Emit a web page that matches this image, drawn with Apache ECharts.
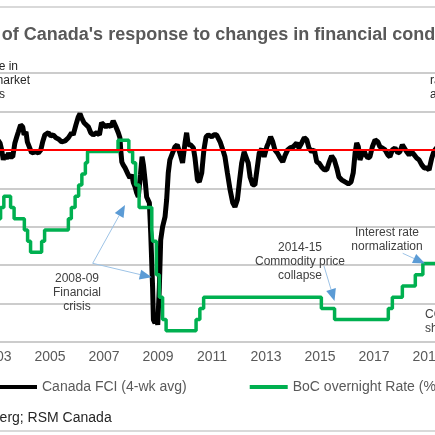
<!DOCTYPE html>
<html>
<head>
<meta charset="utf-8">
<script src="https://cdn.jsdelivr.net/npm/echarts@6/dist/echarts.min.js"></script>
<style>
  html, body { margin: 0; padding: 0; overflow: hidden; background: #fff; width: 435px; height: 435px; }
  /* the chart is wider than the window: only its middle part is shown */
  #chart { position: absolute; left: -100px; top: 0; width: 636px; height: 435px; }
  #frame { position: absolute; left: -98px; top: 6px; width: 630px; height: 422px; z-index: 5;
           border: 2px solid #d9d9d9; pointer-events: none; }
</style>
</head>
<body>
<div id="chart"></div>
<div id="frame"></div>
<script>
// x values are decimal years
const fciYears = [
  2003.08, 2003.15, 2003.21, 2003.27, 2003.33, 2003.40, 2003.46, 2003.52, 2003.62, 2003.70, 2003.77, 2003.83,
  2003.91, 2003.99, 2004.04, 2004.11, 2004.16, 2004.23, 2004.32, 2004.38, 2004.48, 2004.57, 2004.66, 2004.73,
  2004.81, 2004.94, 2005.03, 2005.12, 2005.22, 2005.31, 2005.43, 2005.56, 2005.68, 2005.80, 2005.86, 2005.96,
  2006.05, 2006.11, 2006.17, 2006.26, 2006.33, 2006.42, 2006.51, 2006.60, 2006.73, 2006.83, 2006.91, 2006.97,
  2007.07, 2007.16, 2007.25, 2007.34, 2007.44, 2007.53, 2007.59, 2007.62, 2007.66, 2007.71, 2007.78, 2007.84,
  2007.90, 2007.96, 2008.03, 2008.09, 2008.15, 2008.21, 2008.27, 2008.35, 2008.41, 2008.46, 2008.52, 2008.58,
  2008.68, 2008.73, 2008.80, 2008.83, 2008.89, 2008.95, 2008.99, 2009.05, 2009.10, 2009.17, 2009.26, 2009.32,
  2009.38, 2009.44, 2009.54, 2009.63, 2009.71, 2009.81, 2009.91, 2010.00, 2010.06, 2010.12, 2010.21, 2010.31,
  2010.37, 2010.46, 2010.53, 2010.62, 2010.70, 2010.78, 2010.86, 2010.99, 2011.07, 2011.17, 2011.30, 2011.40,
  2011.48, 2011.57, 2011.67, 2011.77, 2011.85, 2011.94, 2012.01, 2012.10, 2012.19, 2012.26, 2012.34, 2012.41,
  2012.51, 2012.59, 2012.68, 2012.75, 2012.84, 2012.93, 2013.03, 2013.09, 2013.17, 2013.25, 2013.33, 2013.42,
  2013.52, 2013.62, 2013.70, 2013.80, 2013.89, 2014.01, 2014.14, 2014.22, 2014.32, 2014.42, 2014.51, 2014.59,
  2014.69, 2014.79, 2014.88, 2014.96, 2015.06, 2015.16, 2015.25, 2015.33, 2015.43, 2015.53, 2015.62, 2015.70,
  2015.80, 2015.93, 2016.05, 2016.15, 2016.23, 2016.30, 2016.36, 2016.42, 2016.48, 2016.54, 2016.62, 2016.69,
  2016.77, 2016.85, 2016.94, 2017.04, 2017.14, 2017.22, 2017.31, 2017.41, 2017.51, 2017.59, 2017.68, 2017.78,
  2017.88, 2017.96, 2018.05, 2018.12, 2018.21, 2018.30, 2018.40, 2018.49, 2018.58, 2018.67, 2018.77, 2018.86,
  2018.95, 2019.04, 2019.14, 2019.20, 2019.26, 2019.35
];
const fciValues = [
  0.50, 0.35, 0.00, -0.52, -0.26, -0.47, -0.16, -0.36, -0.36, 0.36, 0.68, 0.94,
  1.30, 1.20, 0.78, 0.94, 0.42, 0.36, -0.16, -0.26, -0.10, -0.16, 0.00, 0.42,
  0.78, 0.89, 0.73, 0.78, 0.63, 0.57, 0.42, 0.47, 0.63, 0.89, 0.78, 1.30,
  1.72, 1.88, 1.67, 1.41, 1.46, 1.20, 0.89, 0.78, 0.89, 0.78, 1.41, 1.46,
  1.20, 1.30, 1.20, 1.51, 1.20, 0.89, 0.63, 0.00, -0.63, -0.78, -0.94, -0.89,
  -1.30, -1.46, -1.30, -1.72, -1.93, -2.24, -2.45, -1.30, -0.36, -0.78, -1.56, -2.45,
  -2.76, -4.32, -7.14, -8.85, -9.01, -8.49, -9.11, -7.14, -4.69, -4.01, -3.49, -2.60,
  -1.20, -0.52, -0.16, 0.16, 0.26, -0.16, -0.68, 0.36, 0.89, 0.26, 0.26, 0.10,
  -0.42, -1.56, -1.67, -1.20, 0.00, 0.68, 0.78, 0.68, 0.78, 0.78, 0.42, 0.00,
  -0.36, -1.20, -2.08, -2.76, -2.97, -2.60, -1.72, -0.68, -0.10, -0.16, -0.68, -1.41,
  -1.82, -1.82, -0.89, -0.16, 0.05, -0.36, 0.16, 0.36, 0.68, 0.42, 0.00, -0.16,
  -0.42, -0.63, -0.31, 0.00, 0.10, 0.16, 0.36, 0.10, 0.36, 0.63, 0.52, 0.10,
  -0.10, 0.00, -0.63, -0.68, -0.89, -1.04, -1.04, -0.68, -0.31, -0.52, -0.94, -1.41,
  -1.56, -1.67, -1.77, -1.67, -1.20, -0.16, 0.36, 0.16, -0.52, -0.42, 0.00, -0.26,
  -0.42, -0.36, 0.16, 0.52, 0.42, 0.16, 0.10, 0.00, -0.26, -0.36, 0.00, 0.10,
  -0.16, -0.10, 0.26, 0.26, -0.10, -0.26, -0.10, -0.26, -0.42, -0.52, -0.78, -0.94,
  -0.94, -1.04, -0.42, -0.16, 0.00, 0.15
];
// BoC overnight rate: date of each change and the new level (%)
const rateYears = [
  2003.00, 2003.17, 2003.29, 2003.54, 2003.67, 2004.05, 2004.17, 2004.28, 2004.69, 2004.80,
  2005.68, 2005.79, 2005.93, 2006.06, 2006.18, 2006.31, 2006.39, 2007.52, 2007.92, 2008.06,
  2008.17, 2008.30, 2008.77, 2008.80, 2008.94, 2009.05, 2009.17, 2009.30, 2010.41, 2010.55,
  2010.69, 2015.05, 2015.54, 2017.53, 2017.68, 2018.05, 2018.53, 2018.81, 2019.40
];
const rateValues = [
  2.75, 3.00, 3.25, 3.00, 2.75, 2.50, 2.25, 2.00, 2.25, 2.50,
  2.75, 3.00, 3.25, 3.50, 3.75, 4.00, 4.25, 4.50, 4.25, 4.00,
  3.50, 3.00, 2.50, 2.25, 1.50, 1.00, 0.50, 0.25, 0.50, 0.75,
  1.00, 0.75, 0.50, 0.75, 1.00, 1.25, 1.50, 1.75, 1.75
];
const xMin = 2001, xMax = 2021, xStep = 2;
const fciMin = -10, fciMax = 4, fciStep = 2;
const rateMin = 0, rateMax = 6, rateStep = 1;

const OFF = 100; // window x -> chart x
const FONT = 'Arial, "Liberation Sans", sans-serif';

const fciData = fciYears.map((y, i) => [y, fciValues[i]]);
const rateData = rateYears.map((y, i) => [y, rateValues[i]]);

// one text line; y is the middle of the line
function note(x, y, text, align, color, size) {
  const fs = size || 12;
  return {
    type: 'text', z: 100, x: x + OFF, y: y - fs * 0.6 + 1,
    style: {
      text: text, align: align, verticalAlign: 'top',
      font: fs + 'px ' + FONT, fill: color || '#404040'
    }
  };
}

function lines(x, y, texts, align, color) {
  return texts.map((t, i) => note(x, y + i * 14, t, align, color));
}

function arrow(x1, y1, x2, y2) {
  const a = Math.atan2(y2 - y1, x2 - x1), len = 12, half = 5;
  const bx = x2 - len * Math.cos(a), by = y2 - len * Math.sin(a);
  const nx = -Math.sin(a) * half, ny = Math.cos(a) * half;
  return [
    { type: 'line', z: 100, shape: { x1: x1 + OFF, y1: y1, x2: bx + OFF, y2: by },
      style: { stroke: '#9dc3e6', lineWidth: 1 } },
    { type: 'polygon', z: 100,
      shape: { points: [[x2 + OFF, y2], [bx + nx + OFF, by + ny], [bx - nx + OFF, by - ny]] },
      style: { fill: '#5b9bd5' } }
  ];
}

const chart = echarts.init(document.getElementById('chart'));
const option = {
  animation: false,
  backgroundColor: 'transparent',
  textStyle: { fontFamily: FONT },
  title: {
    text: "Bank of Canada's response to changes in financial conditions",
    left: 'center', top: 21,
    textStyle: { fontSize: 18, fontWeight: 'bold', color: '#595959', fontFamily: FONT }
  },
  grid: { left: 42, right: 54, top: 73, bottom: 93 },
  legend: {
    left: 94, top: 375, itemWidth: 38, itemHeight: 4, itemGap: 63, icon: 'rect',
    textStyle: { fontSize: 14, color: '#595959', fontFamily: FONT },
    data: ['Canada FCI (4-wk avg)', 'BoC overnight Rate (%)']
  },
  xAxis: {
    type: 'value', min: xMin, max: xMax, interval: xStep,
    axisLine: { show: true, onZero: false, lineStyle: { color: '#cccccc', width: 2 } },
    axisTick: { show: false },
    splitLine: { show: false },
    axisLabel: { fontSize: 14, color: '#595959', margin: 8, formatter: v => String(v) }
  },
  yAxis: [
    {
      type: 'value', min: fciMin, max: fciMax, interval: fciStep,
      axisLine: { show: false }, axisTick: { show: false },
      splitLine: { show: true, lineStyle: { color: '#cccccc', width: 2, type: 'solid' } },
      axisLabel: { fontSize: 14, color: '#595959' }
    },
    {
      type: 'value', min: rateMin, max: rateMax, interval: rateStep,
      axisLine: { show: false }, axisTick: { show: false },
      splitLine: { show: false },
      axisLabel: { fontSize: 14, color: '#595959' }
    }
  ],
  series: [
    {
      name: 'Canada FCI (4-wk avg)', type: 'line', data: fciData, symbol: 'none', z: 2,
      lineStyle: { color: '#000', width: 5 }, itemStyle: { color: '#000' },
      markLine: {
        silent: true, symbol: 'none', label: { show: false },
        lineStyle: { color: '#ff0000', width: 2, type: 'solid' },
        data: [{ yAxis: 0 }]
      }
    },
    {
      name: 'BoC overnight Rate (%)', type: 'line', yAxisIndex: 1, step: 'end',
      data: rateData, symbol: 'none', z: 3,
      lineStyle: { color: '#00b050', width: 3.5 }, itemStyle: { color: '#00b050' }
    }
  ],
  graphic: [
    note(18, 67, 'Spike in', 'right', '#262626'),
    note(30, 81, 'stock market', 'right', '#262626'),
    note(5, 95, 'jitters', 'right', '#262626'),
    note(430, 81, 'rates', 'left', '#262626'),
    note(430, 95, 'ahead', 'left', '#262626'),
    ...lines(77, 279, ['2008-09', 'Financial', 'crisis'], 'center'),
    ...lines(300, 248, ['2014-15', 'Commodity price', 'collapse'], 'center'),
    ...lines(387, 233, ['Interest rate', 'normalization'], 'center'),
    ...lines(425, 315, ['COVID-19', 'shock'], 'left'),
    ...arrow(92.7, 263.3, 125, 205),
    ...arrow(92.7, 263.3, 151.7, 277.3),
    ...arrow(324, 266, 334.5, 301),
    ...arrow(402.7, 253.3, 425, 263.5),
    note(-100, 419, 'Source: Bloomberg; RSM Canada', 'left', '#262626', 14)
  ]
};
chart.setOption(option);
</script>
</body>
</html>
